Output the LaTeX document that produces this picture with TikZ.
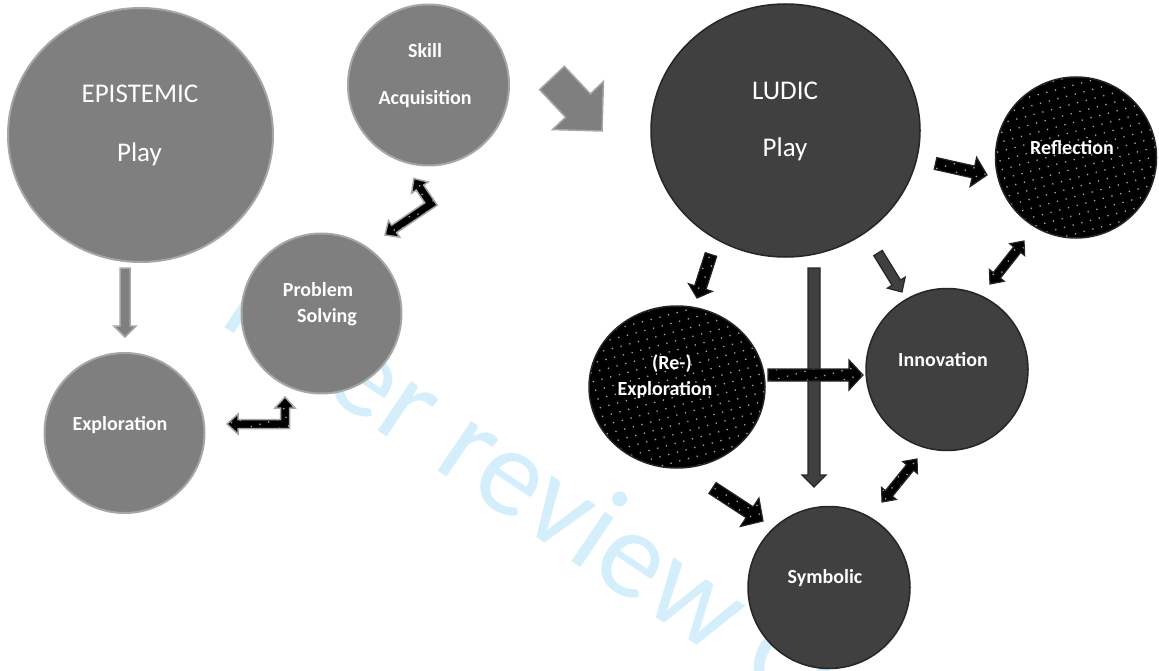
\documentclass[tikz,border=0pt]{standalone}
\usepackage{fontspec}
\setmainfont{Carlito}
\usetikzlibrary{calc,shapes.geometric,patterns.meta}
\definecolor{gfill}{HTML}{7F7F7F}
\definecolor{gline}{HTML}{A6A6A6}
\definecolor{dfill}{HTML}{404040}
\definecolor{dline}{HTML}{262626}
\definecolor{wmcol}{RGB}{212,239,251}
\newcommand\blockarrow[6][]{%
  \coordinate (ba-h) at ($(#3)!#6!(#2)$);
  \draw[#1] ($(#2)!#4!90:(#3)$) -- ($(ba-h)!#4!90:(#3)$) -- ($(ba-h)!#5!90:(#3)$) -- (#3)
    -- ($(ba-h)!#5!-90:(#3)$) -- ($(ba-h)!#4!-90:(#3)$) -- ($(#2)!#4!-90:(#3)$) -- cycle;}
\newcommand\dblarrow[6][]{%
  \coordinate (da-a) at ($(#2)!#6!(#3)$);
  \coordinate (da-b) at ($(#3)!#6!(#2)$);
  \draw[#1] (#2) -- ($(da-a)!#5!90:(#3)$) -- ($(da-a)!#4!90:(#3)$) -- ($(da-b)!#4!90:(#3)$)
    -- ($(da-b)!#5!90:(#3)$) -- (#3) -- ($(da-b)!#5!-90:(#3)$) -- ($(da-b)!#4!-90:(#3)$)
    -- ($(da-a)!#4!-90:(#3)$) -- ($(da-a)!#5!-90:(#3)$) -- cycle;}
\tikzset{
  dotfill/.style={preaction={fill=black}, pattern={Dots[distance=9pt, radius=0.9pt, angle=15]}, pattern color=gray!70},
  graycirc/.style={circle, fill=gfill, draw=gline, line width=2pt, inner sep=0pt},
  darkcirc/.style={circle, fill=dfill, draw=dline, line width=1.5pt, inner sep=0pt},
  dotcirc/.style={circle, dotfill, draw=dline, line width=1.5pt, inner sep=0pt},
  grayarrow/.style={fill=gfill, draw=gline, line width=1.5pt, line join=miter},
  darkarrow/.style={fill=dfill, draw=dline, line width=1.2pt, line join=miter},
  dotarrow/.style={dotfill, draw=dline, line width=1.2pt, line join=miter},
  dotarrowl/.style={dotfill, draw=gline, line width=1.5pt, line join=miter},
  big/.style={text=white, inner sep=0pt, anchor=base, font=\fontsize{27}{32}\selectfont},
  lbl/.style={text=white, inner sep=0pt, anchor=base, font=\bfseries\fontsize{20}{24}\selectfont},
}
\begin{document}
\begin{tikzpicture}[x=1pt, y=-1pt]
\useasboundingbox (0,0) rectangle (1159,671);
% watermark
\begin{scope}
\clip (0,0) rectangle (1159,671);
\node[text=wmcol, inner sep=0pt, anchor=base west, rotate=-34, font=\fontsize{125}{145}\selectfont] (wmark) at (217,322) {Peer review Only};
\end{scope}

% circles
\node[graycirc, ellipse, minimum width=265pt, minimum height=254pt] (epi) at (140.5,135) {};
\node[graycirc, minimum size=161pt] (skill) at (428.5,85) {};
\node[graycirc, minimum size=160pt] (prob) at (321.5,313.5) {};
\node[graycirc, minimum size=160pt] (explo) at (124.5,433) {};
\node[darkcirc, ellipse, minimum width=269pt, minimum height=253pt] (ludic) at (785.5,130.5) {};
\node[dotcirc, minimum size=161pt] (refl) at (1076,157.5) {};
\node[darkcirc, minimum size=162pt] (innov) at (947,369.5) {};
\node[dotcirc, ellipse, minimum width=176pt, minimum height=162pt] (reexp) at (677,387) {};
\node[darkcirc, minimum size=162pt] (symb) at (829,587.5) {};

% texts
\node[big] (epi-t1) at (140,103) {EPISTEMIC};
\node[big] (epi-t2) at (139.5,162) {Play};
\node[big] (lud-t1) at (785,100) {LUDIC};
\node[big] (lud-t2) at (785,157) {Play};
\node[lbl] (skill-t1) at (425,58) {Skill};
\node[lbl] (skill-t2) at (425,105) {Acquisition};
\node[lbl] (prob-t1) at (318,296) {Problem};
\node[lbl] (prob-t2) at (327,322.5) {Solving};
\node[lbl] (explo-t) at (120,430) {Exploration};
\node[lbl] (refl-t) at (1072,155) {Reflection};
\node[lbl] (innov-t) at (943,366) {Innovation};
\node[lbl] (reexp-t1) at (672,369) {(Re-)};
\node[lbl] (reexp-t2) at (665,395) {Exploration};
\node[lbl] (symb-t) at (825,583) {Symbolic};

% arrow end points
\coordinate (g1a) at (552,78);   \coordinate (g1b) at (602,131);
\coordinate (g2a) at (125,268);  \coordinate (g2b) at (125,337);
\coordinate (r1a) at (935.5,163.5); \coordinate (r1b) at (987,175);
\coordinate (r2a) at (711,254.5); \coordinate (r2b) at (697,298);
\coordinate (r3a) at (878,253);  \coordinate (r3b) at (902,292);
\coordinate (r4a) at (814,268);  \coordinate (r4b) at (814,487);
\coordinate (r5a) at (768,375);  \coordinate (r5b) at (863,375);
\coordinate (r6a) at (712.5,488); \coordinate (r6b) at (763,521);
\coordinate (r7a) at (882,502);  \coordinate (r7b) at (917,459);
\coordinate (r8a) at (990,284);  \coordinate (r8b) at (1024,241);

% left arrows
\blockarrow[grayarrow]{g1a}{g1b}{17pt}{35pt}{35pt}
\blockarrow[grayarrow]{g2a}{g2b}{5pt}{11pt}{11pt}
\draw[dotarrowl] (227,424) -- (238,414) -- (238,419.5) -- (280.5,419.5) -- (280.5,408) -- (275,408)
  -- (285,397) -- (295,408) -- (289.5,408) -- (289.5,428.5) -- (238,428.5) -- (238,434) -- cycle;
\draw[dotarrowl] (385,235) -- (388.5,220.6) -- (391.6,225.2) -- (424.75,202.8) -- (416.2,190.1)
  -- (411.6,193.2) -- (413.8,178.5) -- (428.2,182.0) -- (423.6,185.1) -- (437.25,205.2)
  -- (396.6,232.6) -- (399.7,237.2) -- cycle;

% right arrows
\blockarrow[dotarrow]{r1a}{r1b}{6pt}{15pt}{14pt}
\blockarrow[dotarrow]{r2a}{r2b}{6pt}{12.5pt}{11pt}
\blockarrow[darkarrow]{r3a}{r3b}{5pt}{10.5pt}{11pt}
\blockarrow[darkarrow]{r4a}{r4b}{6pt}{12pt}{12pt}
\blockarrow[dotarrow]{r5a}{r5b}{6pt}{15pt}{14pt}
\blockarrow[dotarrow]{r6a}{r6b}{6.5pt}{17pt}{16pt}
\dblarrow[dotarrow]{r7a}{r7b}{4.5pt}{9.5pt}{11pt}
\dblarrow[dotarrow]{r8a}{r8b}{4.5pt}{9.5pt}{11pt}
\end{tikzpicture}
\end{document}
